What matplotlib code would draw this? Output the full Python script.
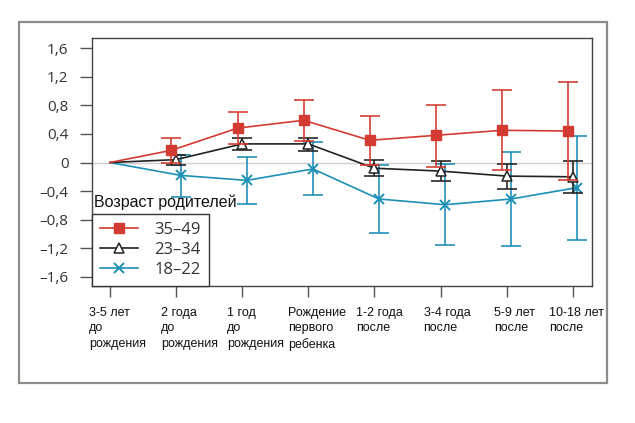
import matplotlib
matplotlib.use("Agg")
import matplotlib.pyplot as plt
from matplotlib.patches import Rectangle
import numpy as np

# ---- data ----
categories = ["3-5 лет\nдо\nрождения", "2 года\nдо\nрождения", "1 год\nдо\nрождения",
              "Рождение\nпервого\nребенка", "1-2 года\nпосле", "3-4 года\nпосле",
              "5-9 лет\nпосле", "10-18 лет\nпосле"]
series_names = ["35–49", "23–34", "18–22"]
# 35-49
red_val = [0.0, 0.17, 0.48, 0.59, 0.31, 0.38, 0.45, 0.44]
red_hi = [0.0, 0.34, 0.70, 0.87, 0.65, 0.81, 1.01, 1.12]
red_lo = [0.0, -0.01, 0.26, 0.30, -0.03, -0.06, -0.11, -0.24]
# 23-34
blk_val = [0.0, 0.04, 0.26, 0.26, -0.08, -0.12, -0.19, -0.20]
blk_hi = [0.0, 0.11, 0.34, 0.34, 0.04, 0.02, -0.02, 0.02]
blk_lo = [0.0, -0.03, 0.17, 0.16, -0.19, -0.26, -0.37, -0.42]
# 18-22
blu_val = [0.0, -0.18, -0.25, -0.09, -0.51, -0.59, -0.51, -0.35]
blu_hi = [0.0, 0.11, 0.08, 0.29, -0.03, -0.02, 0.15, 0.37]
blu_lo = [0.0, -0.48, -0.58, -0.46, -0.98, -1.15, -1.16, -1.09]
yticks = [1.6, 1.2, 0.8, 0.4, 0, -0.4, -0.8, -1.2, -1.6]
ytick_labels = ["1,6", "1,2", "0,8", "0,4", "0", "–0,4", "–0,8", "–1,2", "–1,6"]
legend_title = "Возраст родителей"

# ---- layout / style ----
W, H = 635, 423
fig = plt.figure(figsize=(W / 100, H / 100), dpi=100)
fig.patches.append(Rectangle((19 / W, 1 - 383 / H), 588 / W, 361 / H, transform=fig.transFigure,
                             fill=False, edgecolor="#8c8c88", lw=1.6, zorder=0))
ax = fig.add_axes([92 / W, 1 - 286 / H, 500 / W, 248 / H])
ax.set_xlim(-0.27, 7.29)
ax.set_ylim(-1.726, 1.74)
for s in ax.spines.values():
    s.set_color("#444444")
    s.set_linewidth(1.0)

ax.axhline(0, color="#cfcfcf", lw=1.0, zorder=1)

idx = np.arange(len(categories))
red_c, blk_c, blu_c = "#d33a31", "#222222", "#1c8fb6"
specs = [
    (red_val, red_hi, red_lo, red_c, dict(marker="s", ms=6.5, mfc=red_c, mec=red_c), -0.07, 4),
    (blk_val, blk_hi, blk_lo, blk_c, dict(marker="^", ms=7.5, mfc="white", mec=blk_c, mew=1.1), 0.0, 3),
    (blu_val, blu_hi, blu_lo, blu_c, dict(marker="x", ms=7, mec=blu_c, mew=1.4), 0.07, 2),
]
handles = []
for val, hi, lo, col, mk, dx, z in specs:
    val = np.array(val); hi = np.array(hi); lo = np.array(lo)
    x = idx + dx * (idx > 0)
    m = idx > 0
    ax.errorbar(x[m], val[m], yerr=[val[m] - lo[m], hi[m] - val[m]], fmt="none",
                ecolor=col, elinewidth=1.3, capsize=7.5, capthick=1.3, alpha=0.9, zorder=z)
    h, = ax.plot(x, val, color=col, lw=1.2, zorder=z + 0.5, markevery=list(range(1, len(idx))), **mk)
    handles.append(h)

ax.set_yticks(yticks)
ax.set_yticklabels(ytick_labels, fontfamily="Open Sans", fontsize=11, color="#333333")
ax.set_xticks(idx)
ax.set_xticklabels([])
ax.tick_params(axis="y", length=8.5, width=1.0, color="#555555", pad=8.5, direction="out")
ax.tick_params(axis="x", length=8, width=1.0, color="#555555", direction="out")

x_off_px = [-21, -15, -15, -20, -18, -17, -13, -24]
for i, lab in enumerate(categories):
    ax.annotate(lab, xy=(i, 0), xycoords=("data", "axes fraction"),
                xytext=(x_off_px[i] * 0.72, -21 * 0.72), textcoords="offset points",
                ha="left", va="top", fontsize=9, family="Liberation Sans",
                color="#111111", linespacing=1.38, annotation_clip=False)

leg = ax.legend(handles, series_names, loc="lower left", bbox_to_anchor=(0, 0),
                borderaxespad=0, fancybox=False, frameon=True,
                prop={"family": "Open Sans", "size": 12}, handlelength=2.25,
                handletextpad=1.0, borderpad=0.5, labelspacing=0.22)
leg.get_frame().set_edgecolor("#333333")
leg.get_frame().set_linewidth(1.0)
leg.get_frame().set_alpha(1)
for t in leg.get_texts():
    t.set_color("#333333")
leg.set_zorder(10)

fig.text(94 / W, 1 - 202 / H, legend_title, ha="left", va="center", fontsize=11.5,
         family="Liberation Sans", color="#111111", zorder=11)

fig.savefig("out.png", dpi=100)
